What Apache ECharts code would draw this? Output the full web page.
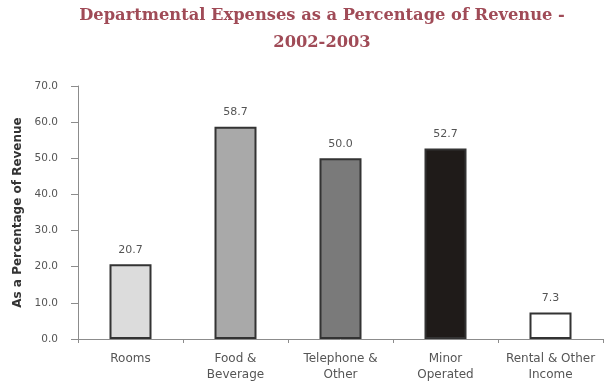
<!DOCTYPE html>
<html>
<head>
<meta charset="utf-8">
<script src="https://cdn.jsdelivr.net/npm/echarts@6/dist/echarts.min.js"></script>
<style>
  html, body { margin: 0; padding: 0; background: #ffffff; }
  #chart { width: 607px; height: 385px; }
</style>
</head>
<body>
<div id="chart"></div>
<script>
// Departments shown along the horizontal axis
const departments = ['Rooms', 'Food &\nBeverage', 'Telephone &\nOther', 'Minor\nOperated', 'Rental & Other\nIncome'];
// Expenses as a percentage of revenue, 2002-2003
const expensePct = [20.7, 58.7, 50.0, 52.7, 7.3];
// Fill shade for each department bar
const barFills = ['#dcdcdc', '#a9a9a9', '#7a7a7a', '#1f1b19', '#ffffff'];
// Heading lines
const titleLines = ['Departmental Expenses as a Percentage of Revenue -', '2002-2003'];

const chart = echarts.init(document.getElementById('chart'), null, { renderer: 'canvas' });

chart.setOption({
  backgroundColor: '#ffffff',
  animation: false,
  // heading, each line centred at the same anchor
  graphic: titleLines.map((t, i) => ({
    type: 'text',
    x: 322,
    y: 16 + i * 27,
    style: {
      text: t,
      align: 'center',
      verticalAlign: 'middle',
      fontFamily: 'DejaVu Serif',
      fontWeight: 'bold',
      fontSize: 16.3,
      fill: '#a04b57'
    }
  })),
  grid: { left: 78, right: 4, top: 86, bottom: 46, containLabel: false },
  xAxis: {
    type: 'category',
    data: departments,
    boundaryGap: true,
    axisLine: { lineStyle: { color: '#8c8c8c', width: 1 } },
    axisTick: { show: true, length: 4, lineStyle: { color: '#8c8c8c' } },
    axisLabel: {
      interval: 0,
      margin: 12,
      fontFamily: 'DejaVu Sans',
      fontSize: 12,
      lineHeight: 16,
      color: '#555555'
    }
  },
  yAxis: {
    type: 'value',
    min: 0,
    max: 70,
    interval: 10,
    name: 'As a Percentage of Revenue',
    nameLocation: 'middle',
    nameGap: 47,
    nameRotate: 90,
    nameTextStyle: {
      fontFamily: 'DejaVu Sans',
      fontWeight: 'bold',
      fontSize: 12,
      color: '#333333'
    },
    axisLine: { show: true, lineStyle: { color: '#8c8c8c', width: 1 } },
    axisTick: { show: true, length: 7, lineStyle: { color: '#8c8c8c' } },
    splitLine: { show: false },
    axisLabel: {
      margin: 20,
      fontFamily: 'DejaVu Sans',
      fontSize: 10.5,
      color: '#555555',
      formatter: v => v.toFixed(1)
    }
  },
  series: [{
    type: 'bar',
    barWidth: 42,
    data: expensePct.map((v, i) => ({
      value: v,
      itemStyle: { color: barFills[i], borderColor: '#333333', borderWidth: 2 }
    })),
    label: {
      show: true,
      position: 'top',
      distance: 9,
      fontFamily: 'DejaVu Sans',
      fontSize: 11,
      color: '#555555',
      formatter: p => p.value.toFixed(1)
    }
  }]
});
</script>
</body>
</html>
